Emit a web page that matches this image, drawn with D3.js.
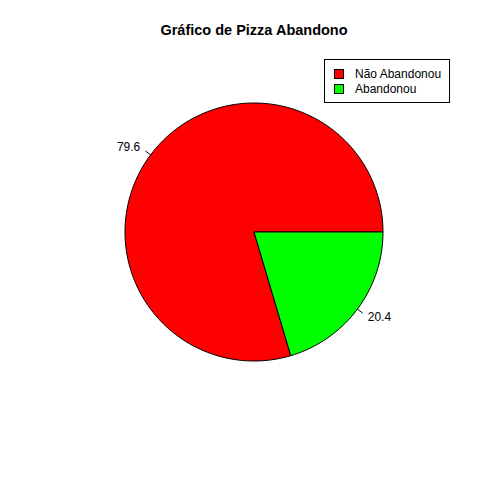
<!DOCTYPE html>
<html><head><meta charset="utf-8">
<script src="https://cdn.jsdelivr.net/npm/d3@7"></script>
<style>body{margin:0;background:#fff}svg{display:block}</style>
</head><body>
<script>
const categories = ["Não Abandonou", "Abandonou"];
const values = [79.6, 20.4];
const colors = ["#ff0000", "#00ff00"];
const title = "Gráfico de Pizza Abandono";

const W = 480, H = 480, cx = 254, cy = 232, R = 129;
const font = "Liberation Sans, Arial, Helvetica, sans-serif";
const svg = d3.select("body").append("svg").attr("width", W).attr("height", H);

svg.append("text").attr("x", 254).attr("y", 35).attr("text-anchor", "middle")
  .attr("font-family", font).attr("font-weight", "bold").attr("font-size", 14.5).text(title);

// R-style pie: starts at 3 o'clock, counterclockwise
const total = d3.sum(values);
const ang = d3.scaleLinear().domain([0, total]).range([0, 2 * Math.PI]);
let cum = 0;
const slices = values.map((v, i) => { const s = { a0: ang(cum), a1: ang(cum + v), v, i }; cum += v; return s; });
const pt = (a, r) => [cx + r * Math.cos(a), cy - r * Math.sin(a)];

slices.forEach(s => {
  const n = Math.max(2, Math.ceil((s.a1 - s.a0) / (2 * Math.PI) * 200));
  const p = d3.path();
  p.moveTo(cx, cy);
  for (let k = 0; k <= n; k++) { const [x, y] = pt(s.a0 + (s.a1 - s.a0) * k / n, R); p.lineTo(x, y); }
  p.closePath();
  svg.append("path").attr("d", p.toString()).attr("fill", colors[s.i]).attr("stroke", "#000").attr("stroke-width", 1);
});

slices.forEach(s => {
  const m = (s.a0 + s.a1) / 2;
  const [x1, y1] = pt(m, R), [x2, y2] = pt(m, R * 1.05), [x3, y3] = pt(m, R * 1.1);
  svg.append("line").attr("x1", x1).attr("y1", y1).attr("x2", x2).attr("y2", y2).attr("stroke", "#000");
  svg.append("text").attr("x", x3).attr("y", y3).attr("dy", "0.35em")
    .attr("text-anchor", Math.cos(m) < 0 ? "end" : "start")
    .attr("font-family", font).attr("font-size", 12).text(s.v.toFixed(1));
});

const lg = svg.append("g");
lg.append("rect").attr("x", 324.5).attr("y", 59.5).attr("width", 125).attr("height", 43)
  .attr("fill", "#fff").attr("stroke", "#000");
categories.forEach((c, i) => {
  const y = 74 + i * 15;
  lg.append("rect").attr("x", 334.5).attr("y", y - 4.5).attr("width", 9).attr("height", 9)
    .attr("fill", colors[i]).attr("stroke", "#000");
  lg.append("text").attr("x", 355).attr("y", y).attr("dy", "0.35em")
    .attr("font-family", font).attr("font-size", 12).text(c);
});
</script>
</body></html>
